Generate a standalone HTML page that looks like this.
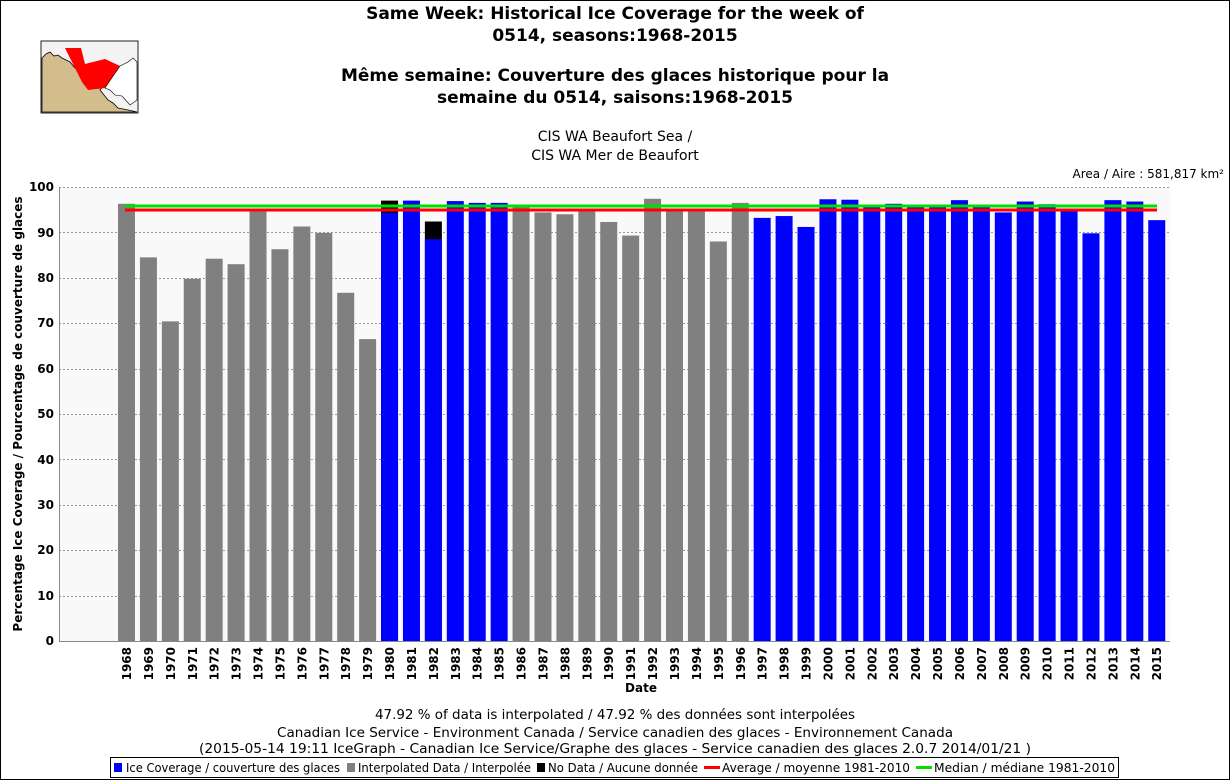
<!DOCTYPE html>
<html><head><meta charset="utf-8"><style>
body{margin:0;background:#fff}
svg{display:block;font-family:"DejaVu Sans","Liberation Sans",sans-serif}
</style></head><body>
<svg width="1230" height="780" viewBox="0 0 1230 780">
<rect x="0.5" y="0.5" width="1229" height="779" fill="#fff" stroke="#000"/>
<!-- map -->
<rect x="41" y="41" width="97" height="72" fill="#f4f2f2" stroke="#222"/>
<polygon points="42,58 46,54 50,52 54,56 58,55 62,58 70,62 75,68 85,65 92,70 100,70 104,75 108,80 104,85 100,90 104,95 108,100 113,103 118,108 128,110 137,112 42,112" fill="#d4bd8c" stroke="#000" stroke-width="0.8"/>
<polygon points="65,48 81,48 85,64 105,59 120,66 105,88 88,90 82,82" fill="#f00"/>
<polygon points="120,66 128,62 133,58 137,62 137,100 130,105 122,96 115,95 110,90 105,88" fill="#fff" stroke="#000" stroke-width="0.6"/>
<!-- titles -->
<g font-weight="bold" font-size="17" text-anchor="middle" fill="#000">
<text x="615" y="19">Same Week: Historical Ice Coverage for the week of</text>
<text x="615" y="41">0514, seasons:1968-2015</text>
<text x="615" y="81">Même semaine: Couverture des glaces historique pour la</text>
<text x="615" y="103">semaine du 0514, saisons:1968-2015</text>
</g>
<g font-size="14" text-anchor="middle">
<text x="615" y="141">CIS WA Beaufort Sea /</text>
<text x="615" y="160">CIS WA Mer de Beaufort</text>
</g>
<text x="1224" y="178" font-size="12" text-anchor="end">Area / Aire : 581,817 km²</text>
<!-- plot -->
<rect x="59" y="187" width="1111" height="454" fill="#f9f9f9"/>
<g stroke="#999" stroke-dasharray="2,2" stroke-width="1">
<line x1="59" x2="1170" y1="187.5" y2="187.5"/><line x1="59" x2="1170" y1="232.5" y2="232.5"/>
<line x1="59" x2="1170" y1="278.5" y2="278.5"/><line x1="59" x2="1170" y1="323.5" y2="323.5"/>
<line x1="59" x2="1170" y1="369.5" y2="369.5"/><line x1="59" x2="1170" y1="414.5" y2="414.5"/>
<line x1="59" x2="1170" y1="459.5" y2="459.5"/><line x1="59" x2="1170" y1="505.5" y2="505.5"/>
<line x1="59" x2="1170" y1="550.5" y2="550.5"/><line x1="59" x2="1170" y1="596.5" y2="596.5"/>
</g>
<line x1="59.5" x2="59.5" y1="187" y2="641" stroke="#888"/>
<line x1="59" x2="1170" y1="641.5" y2="641.5" stroke="#888"/>
<g font-size="12" font-weight="bold" text-anchor="end">
<text x="54" y="191">100</text><text x="54" y="237">90</text><text x="54" y="282">80</text>
<text x="54" y="327">70</text><text x="54" y="373">60</text><text x="54" y="418">50</text>
<text x="54" y="464">40</text><text x="54" y="509">30</text><text x="54" y="554">20</text>
<text x="54" y="600">10</text><text x="54" y="645">0</text>
</g>
<text transform="translate(22,414) rotate(-90)" font-size="12" font-weight="bold" text-anchor="middle">Percentage Ice Coverage / Pourcentage de couverture de glaces</text>
<g transform="translate(118,641) scale(1,-4.54)">
<g fill="#808080">
<rect x="0" width="17" height="96.3"/><rect x="21.92" width="17" height="84.5"/>
<rect x="43.84" width="17" height="70.4"/><rect x="65.76" width="17" height="79.8"/>
<rect x="87.68" width="17" height="84.2"/><rect x="109.6" width="17" height="83.0"/>
<rect x="131.52" width="17" height="95.0"/><rect x="153.44" width="17" height="86.3"/>
<rect x="175.36" width="17" height="91.3"/><rect x="197.28" width="17" height="89.9"/>
<rect x="219.2" width="17" height="76.7"/><rect x="241.12" width="17" height="66.5"/>
<rect x="394.56" width="17" height="95.7"/><rect x="416.48" width="17" height="94.4"/>
<rect x="438.4" width="17" height="94.0"/><rect x="460.32" width="17" height="95.0"/>
<rect x="482.24" width="17" height="92.3"/><rect x="504.16" width="17" height="89.3"/>
<rect x="526.08" width="17" height="97.4"/><rect x="548" width="17" height="95.0"/>
<rect x="569.92" width="17" height="95.0"/><rect x="591.84" width="17" height="88.0"/>
<rect x="613.76" width="17" height="96.5"/>
</g>
<g fill="#000">
<rect x="263.04" width="17" height="97.0"/><rect x="306.88" width="17" height="92.4"/>
</g>
<g fill="#0000ff">
<rect x="263.04" width="17" height="94.3"/><rect x="284.96" width="17" height="97.0"/>
<rect x="306.88" width="17" height="88.5"/><rect x="328.8" width="17" height="96.9"/>
<rect x="350.72" width="17" height="96.5"/><rect x="372.64" width="17" height="96.5"/>
<rect x="635.68" width="17" height="93.2"/><rect x="657.6" width="17" height="93.6"/>
<rect x="679.52" width="17" height="91.2"/><rect x="701.44" width="17" height="97.3"/>
<rect x="723.36" width="17" height="97.2"/><rect x="745.28" width="17" height="95.5"/>
<rect x="767.2" width="17" height="96.3"/><rect x="789.12" width="17" height="95.5"/>
<rect x="811.04" width="17" height="95.5"/><rect x="832.96" width="17" height="97.1"/>
<rect x="854.88" width="17" height="95.5"/><rect x="876.8" width="17" height="94.4"/>
<rect x="898.72" width="17" height="96.8"/><rect x="920.64" width="17" height="96.2"/>
<rect x="942.56" width="17" height="95.0"/><rect x="964.48" width="17" height="89.8"/>
<rect x="986.4" width="17" height="97.1"/><rect x="1008.32" width="17" height="96.8"/>
<rect x="1030.24" width="17" height="92.7"/>
</g>
</g>
<line x1="125" x2="1157" y1="206" y2="206" stroke="#00e000" stroke-width="3"/>
<line x1="125" x2="1157" y1="210" y2="210" stroke="#f00" stroke-width="3"/>
<g font-size="12" font-weight="bold" text-anchor="end">
<text transform="translate(131,647) rotate(-90)">1968</text><text transform="translate(152.92,647) rotate(-90)">1969</text>
<text transform="translate(174.84,647) rotate(-90)">1970</text><text transform="translate(196.76,647) rotate(-90)">1971</text>
<text transform="translate(218.68,647) rotate(-90)">1972</text><text transform="translate(240.6,647) rotate(-90)">1973</text>
<text transform="translate(262.52,647) rotate(-90)">1974</text><text transform="translate(284.44,647) rotate(-90)">1975</text>
<text transform="translate(306.36,647) rotate(-90)">1976</text><text transform="translate(328.28,647) rotate(-90)">1977</text>
<text transform="translate(350.2,647) rotate(-90)">1978</text><text transform="translate(372.12,647) rotate(-90)">1979</text>
<text transform="translate(394.04,647) rotate(-90)">1980</text><text transform="translate(415.96,647) rotate(-90)">1981</text>
<text transform="translate(437.88,647) rotate(-90)">1982</text><text transform="translate(459.8,647) rotate(-90)">1983</text>
<text transform="translate(481.72,647) rotate(-90)">1984</text><text transform="translate(503.64,647) rotate(-90)">1985</text>
<text transform="translate(525.56,647) rotate(-90)">1986</text><text transform="translate(547.48,647) rotate(-90)">1987</text>
<text transform="translate(569.4,647) rotate(-90)">1988</text><text transform="translate(591.32,647) rotate(-90)">1989</text>
<text transform="translate(613.24,647) rotate(-90)">1990</text><text transform="translate(635.16,647) rotate(-90)">1991</text>
<text transform="translate(657.08,647) rotate(-90)">1992</text><text transform="translate(679,647) rotate(-90)">1993</text>
<text transform="translate(700.92,647) rotate(-90)">1994</text><text transform="translate(722.84,647) rotate(-90)">1995</text>
<text transform="translate(744.76,647) rotate(-90)">1996</text><text transform="translate(766.68,647) rotate(-90)">1997</text>
<text transform="translate(788.6,647) rotate(-90)">1998</text><text transform="translate(810.52,647) rotate(-90)">1999</text>
<text transform="translate(832.44,647) rotate(-90)">2000</text><text transform="translate(854.36,647) rotate(-90)">2001</text>
<text transform="translate(876.28,647) rotate(-90)">2002</text><text transform="translate(898.2,647) rotate(-90)">2003</text>
<text transform="translate(920.12,647) rotate(-90)">2004</text><text transform="translate(942.04,647) rotate(-90)">2005</text>
<text transform="translate(963.96,647) rotate(-90)">2006</text><text transform="translate(985.88,647) rotate(-90)">2007</text>
<text transform="translate(1007.8,647) rotate(-90)">2008</text><text transform="translate(1029.72,647) rotate(-90)">2009</text>
<text transform="translate(1051.64,647) rotate(-90)">2010</text><text transform="translate(1073.56,647) rotate(-90)">2011</text>
<text transform="translate(1095.48,647) rotate(-90)">2012</text><text transform="translate(1117.4,647) rotate(-90)">2013</text>
<text transform="translate(1139.32,647) rotate(-90)">2014</text><text transform="translate(1161.24,647) rotate(-90)">2015</text>
</g>
<text x="641" y="692" font-size="12" font-weight="bold" text-anchor="middle">Date</text>
<g font-size="13" text-anchor="middle">
<text x="615" y="719" textLength="480" lengthAdjust="spacingAndGlyphs">47.92 % of data is interpolated / 47.92 % des données sont interpolées</text>
<text x="615" y="737" textLength="676" lengthAdjust="spacingAndGlyphs">Canadian Ice Service - Environment Canada / Service canadien des glaces - Environnement Canada</text>
<text x="615" y="753" textLength="832" lengthAdjust="spacingAndGlyphs">(2015-05-14 19:11 IceGraph - Canadian Ice Service/Graphe des glaces - Service canadien des glaces 2.0.7 2014/01/21 )</text>
</g>
<rect x="110.5" y="757.5" width="1008" height="20" fill="#fff" stroke="#000"/>
<g font-size="12">
<rect x="114" y="763" width="8" height="9" fill="#00f"/><text x="126" y="772" textLength="214" lengthAdjust="spacingAndGlyphs">Ice Coverage / couverture des glaces</text>
<rect x="347" y="763" width="8" height="9" fill="#808080"/><text x="358" y="772" textLength="173" lengthAdjust="spacingAndGlyphs">Interpolated Data / Interpolée</text>
<rect x="537" y="763" width="8" height="9" fill="#000"/><text x="548" y="772" textLength="150" lengthAdjust="spacingAndGlyphs">No Data / Aucune donnée</text>
<rect x="704" y="766" width="16" height="3" fill="#f00"/><text x="722" y="772" textLength="188" lengthAdjust="spacingAndGlyphs">Average / moyenne 1981-2010</text>
<rect x="916" y="766" width="16" height="3" fill="#00e000"/><text x="934" y="772" textLength="181" lengthAdjust="spacingAndGlyphs">Median / médiane 1981-2010</text>
</g>
</svg>
</body></html>
